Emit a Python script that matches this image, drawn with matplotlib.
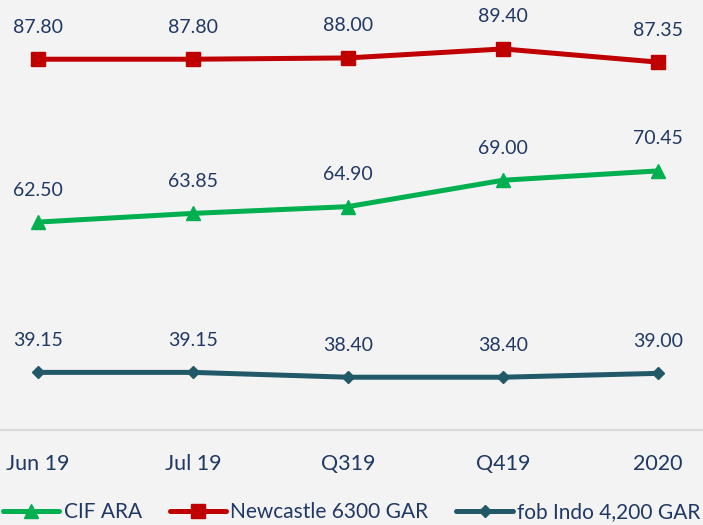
import matplotlib.pyplot as plt

categories = ["Jun 19", "Jul 19", "Q319", "Q419", "2020"]
cif_ara = [62.50, 63.85, 64.90, 69.00, 70.45]
newcastle = [87.80, 87.80, 88.00, 89.40, 87.35]
fob_indo = [39.15, 39.15, 38.40, 38.40, 39.00]

bg = "#F3F3F3"
text_col = "#1F3864"
plt.rcParams['font.family'] = ['Lato', 'DejaVu Sans']

fig = plt.figure(figsize=(7.03, 5.25), dpi=100, facecolor=bg)
# axes spans from y=0 (top) down to the axis line at y=430 px
ax = fig.add_axes([0, 95 / 525, 1, 430 / 525])
ax.set_facecolor(bg)

x = list(range(len(categories)))
series = [
    (cif_ara, "CIF ARA", "#00B050", "^", 10),
    (newcastle, "Newcastle 6300 GAR", "#C00000", "s", 10),
    (fob_indo, "fob Indo 4,200 GAR", "#215968", "D", 6),
]
for vals, name, col, mk, ms in series:
    ax.plot(x, vals, color=col, lw=3.6, marker=mk, markersize=ms, label=name,
            solid_capstyle='round')
    for xi, v in zip(x, vals):
        ax.annotate(f"{v:.2f}", (xi, v), xytext=(0, 32), textcoords='offset pixels',
                    ha='center', va='center', fontsize=14, color=text_col)

ax.set_xlim(-38 / 155, 4 + 45 / 155)
ax.set_ylim(30.2, 97.0)
ax.set_yticks([])
ax.set_xticks(x)
ax.set_xticklabels(categories, fontsize=15.5, color=text_col)
ax.tick_params(axis='x', length=0, pad=17)
for s in ["top", "left", "right"]:
    ax.spines[s].set_visible(False)
ax.spines["bottom"].set_color("#D9D9D9")
ax.spines["bottom"].set_linewidth(1.5)

leg = fig.legend(loc='lower left', bbox_to_anchor=(0.0, 0.0), ncol=3, frameon=False,
                 fontsize=15, handlelength=2.7, handletextpad=0.2, columnspacing=1.35,
                 borderaxespad=0, borderpad=0.15, labelcolor=text_col)

fig.savefig("out.png", dpi=100, facecolor=bg)
